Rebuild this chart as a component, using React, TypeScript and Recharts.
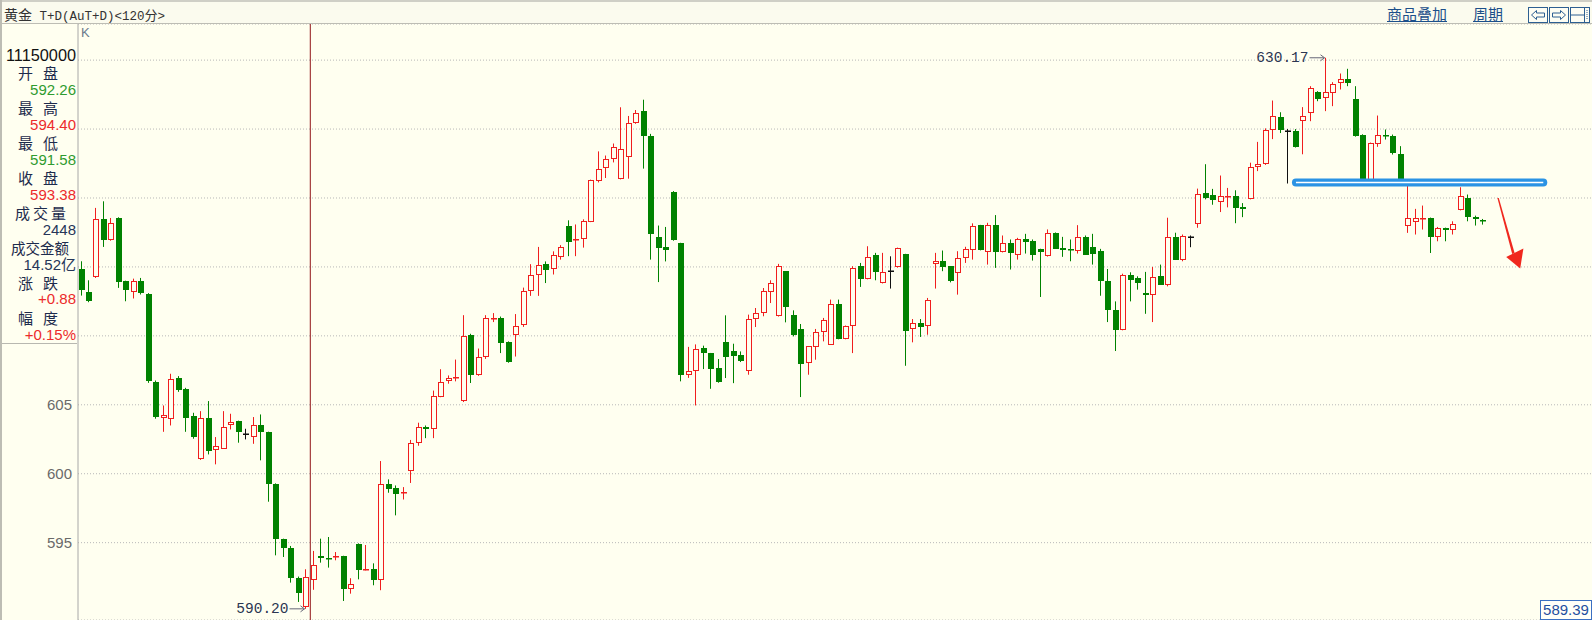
import React from "react";
import { ComposedChart, Bar, XAxis, YAxis, CartesianGrid, ReferenceLine } from "recharts";

// ---- data ----
const opens = [
  614.86, 613.19, 614.25, 618.45, 616.98, 618.55, 613.96, 613.16, 613.96, 613.04,
  606.64, 604.03, 603.99, 606.96, 606.11, 604.18, 601.04, 604.06, 601.71, 601.81,
  603.5, 603.82, 602.85, 602.68, 603.5, 603.04, 599.28, 595.24, 594.64, 592.42,
  590.36, 592.26, 594.03, 593.92, 593.96, 594.03, 591.67, 594.93, 593.07, 593.12,
  592.27, 599.28, 598.99, 598.57, 600.2, 602.2, 603.38, 603.28, 605.58, 606.7,
  606.95, 605.25, 610.08, 607.15, 608.45, 611.25, 611.33, 609.58, 610.03, 610.78,
  613.25, 614.45, 615.2, 614.83, 615.7, 618.0, 616.93, 617.0, 618.28, 621.2,
  622.15, 622.83, 621.4, 623.0, 625.45, 626.28, 624.53, 617.15, 616.45, 620.45,
  616.7, 607.15, 607.45, 609.12, 608.75, 607.66, 609.55, 608.87, 608.58, 607.42,
  611.25, 611.66, 613.16, 611.42, 614.69, 611.49, 610.5, 608.03, 609.19, 610.28,
  609.36, 612.31, 609.79, 610.74, 615.1, 614.15, 615.85, 613.84, 614.73, 615.0,
  615.94, 610.5, 610.93, 610.74, 615.22, 615.46, 615.05, 614.56, 615.66, 616.26,
  618.01, 616.09, 618.01, 616.09, 616.75, 615.83, 616.99, 616.87, 616.31, 615.78,
  617.48, 616.38, 616.31, 616.19, 617.18, 616.46, 616.14, 614.0, 611.89, 610.44,
  614.44, 614.2, 613.11, 612.99, 614.32, 613.71, 617.18, 615.53, 617.18, 618.08,
  620.39, 620.2, 619.71, 620.07, 620.17, 619.32, 619.93, 622.27, 622.44, 624.95,
  625.85, 624.88, 624.88, 625.56, 626.13, 627.68, 627.22, 627.63, 628.35, 628.65,
  627.19, 624.6, 621.14, 623.95, 624.6, 624.48, 623.2, 618.0, 618.27, 618.48,
  618.56, 617.18, 617.83, 617.66, 619.11, 620.0, 618.63, 618.43,
];
const highs = [
  615.41, 614.03, 619.28, 619.76, 618.55, 618.6, 614.0, 614.15, 614.2, 613.1,
  606.76, 604.95, 607.25, 607.08, 606.23, 604.42, 604.54, 605.27, 602.66, 604.54,
  604.35, 603.85, 603.26, 604.11, 604.3, 603.05, 599.3, 595.29, 594.76, 592.54,
  593.07, 594.4, 595.29, 595.41, 594.32, 594.05, 592.42, 594.95, 594.83, 593.5,
  600.92, 599.59, 599.15, 599.03, 602.45, 603.7, 603.5, 606.03, 607.58, 607.13,
  608.28, 611.5, 610.15, 609.08, 611.5, 611.65, 611.4, 609.6, 611.58, 613.5,
  615.2, 616.45, 615.4, 616.13, 616.58, 618.38, 618.08, 618.45, 621.33, 623.38,
  623.08, 623.95, 626.58, 625.95, 626.38, 627.13, 624.65, 618.0, 617.9, 620.5,
  616.75, 609.2, 609.38, 609.29, 608.76, 608.32, 611.49, 609.43, 608.87, 611.54,
  612.02, 613.47, 614.03, 615.22, 614.7, 611.85, 610.86, 609.25, 610.5, 611.3,
  612.63, 612.63, 610.75, 615.05, 615.29, 616.5, 616.02, 616.02, 615.77, 616.4,
  615.95, 611.22, 611.22, 612.75, 616.02, 616.19, 615.05, 616.14, 616.46, 618.16,
  618.05, 618.2, 618.76, 617.28, 616.99, 617.11, 617.4, 616.99, 616.32, 617.72,
  617.5, 617.18, 616.99, 618.03, 617.28, 617.4, 616.31, 614.85, 612.5, 614.51,
  614.61, 614.32, 614.64, 615.0, 615.17, 618.57, 617.48, 617.35, 617.28, 620.68,
  622.45, 620.66, 621.63, 620.73, 620.56, 619.63, 622.56, 624.07, 625.05, 627.07,
  626.22, 625.0, 625.0, 626.59, 628.11, 627.75, 630.17, 628.4, 629.03, 629.37,
  628.11, 624.62, 624.02, 625.98, 624.97, 624.6, 623.76, 621.14, 619.21, 619.45,
  618.58, 617.9, 617.85, 618.31, 620.78, 620.25, 618.72, 618.48,
];
const lows = [
  612.92, 612.44, 614.2, 616.45, 616.9, 613.48, 612.51, 612.71, 613.0, 606.59,
  603.99, 603.04, 603.5, 605.94, 603.04, 602.54, 601.0, 601.4, 600.68, 601.8,
  603.21, 602.25, 602.49, 602.17, 600.97, 597.97, 594.08, 593.96, 592.1, 590.7,
  590.2, 591.58, 593.55, 593.19, 593.72, 590.77, 591.3, 592.34, 592.99, 591.91,
  591.55, 598.62, 596.98, 598.13, 599.33, 602.03, 602.58, 602.58, 605.55, 606.53,
  606.7, 605.2, 606.58, 607.1, 608.33, 611.0, 608.75, 608.05, 608.5, 610.65,
  612.9, 612.9, 613.83, 614.45, 615.53, 615.78, 615.78, 616.4, 618.25, 621.13,
  621.45, 622.58, 621.35, 621.4, 625.38, 622.13, 615.53, 613.9, 615.4, 616.9,
  606.7, 606.95, 604.95, 607.59, 606.16, 606.6, 606.94, 606.57, 608.1, 607.18,
  610.64, 611.42, 612.38, 611.4, 610.98, 609.96, 605.56, 607.18, 608.27, 609.6,
  609.35, 609.75, 609.75, 608.75, 613.55, 614.1, 614.03, 613.8, 613.43, 614.95,
  607.83, 609.53, 609.92, 610.08, 613.43, 614.69, 613.88, 612.99, 615.29, 615.53,
  616.2, 615.17, 614.93, 616.05, 614.81, 615.53, 615.97, 615.46, 612.82, 615.75,
  616.3, 615.73, 615.41, 615.97, 615.88, 615.17, 612.91, 611.0, 608.9, 610.4,
  612.5, 613.35, 611.6, 611.0, 613.7, 613.59, 615.5, 615.41, 616.43, 617.84,
  619.9, 619.51, 618.98, 619.32, 618.17, 618.61, 619.9, 621.95, 622.4, 624.27,
  624.71, 621.05, 623.66, 623.17, 625.57, 627.02, 626.3, 626.66, 627.87, 628.11,
  624.45, 621.1, 621.1, 623.71, 624.24, 623.15, 621.1, 617.47, 617.35, 617.71,
  616.01, 616.86, 616.86, 617.35, 619.1, 618.31, 618.0, 618.07,
];
const closes = [
  613.31, 612.51, 618.45, 616.98, 618.19, 613.91, 613.36, 613.96, 613.12, 606.71,
  604.11, 604.23, 606.88, 606.04, 604.03, 602.66, 604.06, 601.64, 602.0, 603.41,
  603.77, 603.04, 602.85, 603.5, 603.04, 599.23, 595.24, 594.64, 592.46, 591.38,
  592.54, 593.38, 593.86, 593.84, 594.03, 591.67, 592.03, 592.99, 593.12, 592.27,
  599.28, 598.86, 598.5, 598.68, 602.2, 603.38, 603.28, 605.63, 606.63, 606.95,
  607.03, 610.0, 607.15, 608.45, 611.33, 611.33, 609.5, 608.08, 610.7, 613.28,
  614.45, 615.15, 614.78, 615.83, 616.45, 616.78, 617.0, 618.33, 621.28, 622.13,
  622.83, 623.7, 623.53, 625.45, 626.15, 624.5, 617.4, 616.4, 616.23, 616.95,
  607.15, 607.45, 609.08, 608.75, 607.61, 606.62, 608.46, 608.51, 608.15, 611.22,
  611.66, 613.23, 613.84, 615.05, 612.07, 610.08, 607.98, 609.24, 610.28, 611.13,
  612.31, 609.79, 610.74, 614.93, 614.15, 615.73, 614.64, 614.64, 614.73, 616.38,
  610.38, 610.93, 610.64, 612.58, 615.46, 615.0, 613.96, 615.66, 616.31, 617.96,
  616.26, 618.01, 616.09, 616.75, 616.02, 616.99, 616.82, 615.9, 616.09, 617.48,
  616.33, 616.26, 616.21, 617.18, 615.9, 615.97, 614.0, 611.89, 610.44, 614.44,
  614.08, 613.83, 612.99, 614.27, 613.71, 617.18, 615.53, 617.23, 617.18, 620.32,
  619.98, 619.88, 620.17, 620.17, 619.27, 619.22, 622.27, 622.44, 624.95, 625.93,
  624.95, 624.88, 623.71, 625.93, 627.99, 627.19, 627.68, 628.28, 628.65, 628.35,
  624.48, 621.14, 624.0, 624.6, 624.48, 623.23, 621.14, 618.56, 618.56, 618.56,
  617.18, 617.83, 617.66, 618.14, 620.13, 618.63, 618.48, 618.36,
];

const TOTAL_SLOTS = 202;
const yTicks = [595, 600, 605, 610, 615, 620, 625, 630];
const yTickLabelsShown = [595, 600, 605];
const Y_MIN = 589.39;
const Y_MAX = 632.62;
const SUPPORT_PRICE = 621.12;
const SUPPORT_FROM = 162;
const SUPPORT_TO = 195;
const CURSOR_INDEX = 31;
const bottomPriceLabel = "589.39";

const infoRows = [
  { text: "11150000", y: 55, kind: "head", color: "#111111" },
  { text: "开盘", y: 73, kind: "label", color: "#1d2b4c" },
  { text: "592.26", y: 90, kind: "num", color: "#2f9b2f" },
  { text: "最高", y: 108, kind: "label", color: "#1d2b4c" },
  { text: "594.40", y: 125, kind: "num", color: "#ec2b2b" },
  { text: "最低", y: 143, kind: "label", color: "#1d2b4c" },
  { text: "591.58", y: 160, kind: "num", color: "#2f9b2f" },
  { text: "收盘", y: 178, kind: "label", color: "#1d2b4c" },
  { text: "593.38", y: 195, kind: "num", color: "#ec2b2b" },
  { text: "成交量", y: 213, kind: "label", color: "#1d2b4c" },
  { text: "2448", y: 230, kind: "num", color: "#263659" },
  { text: "成交金额", y: 248, kind: "label", color: "#1d2b4c" },
  { text: "14.52亿", y: 265, kind: "num", color: "#263659" },
  { text: "涨跌", y: 283, kind: "label", color: "#1d2b4c" },
  { text: "+0.88", y: 299, kind: "num", color: "#ec2b2b" },
  { text: "幅度", y: 318, kind: "label", color: "#1d2b4c" },
  { text: "+0.15%", y: 335, kind: "num", color: "#ec2b2b" },
];

let maxIdx = 0;
let minIdx = 0;
highs.forEach((v, i) => { if (v > highs[maxIdx]) maxIdx = i; });
lows.forEach((v, i) => { if (v < lows[minIdx]) minIdx = i; });

const data = Array.from({ length: TOTAL_SLOTS }, (_, i) =>
  i < opens.length
    ? { i, o: opens[i], h: highs[i], l: lows[i], c: closes[i], range: [lows[i], highs[i]], tagHigh: i === maxIdx, tagLow: i === minIdx }
    : { i }
);

const RED = "#f01e1e";
const GREEN = "#008200";
const BG = "#fffff0";
const TAG = "#2b3652";

const Candle = (props: any) => {
  const { x, y, width, height, payload } = props;
  if (!payload || payload.o == null) return null;
  const { o, h, l, c } = payload;
  const top = Math.min(y, y + height);
  const bot = Math.max(y, y + height);
  const ppu = h > l ? (bot - top) / (h - l) : 0;
  const py = (v: number) => top + (h - v) * ppu;
  const cx = x + width / 2;
  const left = Math.round(cx - 3);
  const wx = left + 2.5;
  const yh = py(h);
  const yl = py(l);
  const yo = py(o);
  const yc = py(c);
  const bTop = Math.round(Math.min(yo, yc));
  const bBot = Math.round(Math.max(yo, yc));
  const els: any[] = [];
  if (c > o) {
    if (bBot - bTop <= 1) {
      els.push(<line key="w" x1={wx} x2={wx} y1={yh} y2={yl} stroke={RED} strokeWidth={1} />);
      els.push(<rect key="b" x={left} y={bTop} width={6} height={Math.max(bBot - bTop, 1) + 0.5} fill={RED} />);
    } else {
      els.push(<line key="w1" x1={wx} x2={wx} y1={yh} y2={bTop} stroke={RED} strokeWidth={1} />);
      els.push(<line key="w2" x1={wx} x2={wx} y1={bBot} y2={yl} stroke={RED} strokeWidth={1} />);
      els.push(<rect key="b" x={left + 0.5} y={bTop + 0.5} width={5} height={bBot - bTop - 1} fill={BG} stroke={RED} strokeWidth={1} />);
    }
  } else if (c < o) {
    els.push(<line key="w" x1={wx} x2={wx} y1={yh} y2={yl} stroke={GREEN} strokeWidth={1} />);
    els.push(<rect key="b" x={left} y={bTop} width={6} height={Math.max(bBot - bTop, 1.5)} fill={GREEN} />);
  } else {
    els.push(<line key="w" x1={wx} x2={wx} y1={yh} y2={yl} stroke="#111" strokeWidth={1} />);
    els.push(<rect key="b" x={left} y={Math.round(yo) - 0.5} width={6} height={1.5} fill="#111" />);
  }
  const tag = (yy: number, val: number, k: string) => (
    <g key={k}>
      <text x={wx - 17} y={yy} textAnchor="end" dominantBaseline="central" fontFamily="'Liberation Mono', 'DejaVu Sans Mono', monospace" fontSize={14.5} fill={TAG}>
        {val.toFixed(2)}
      </text>
      <line x1={wx - 16} x2={wx - 1} y1={yy} y2={yy} stroke="#667" strokeWidth={1} />
      <path d={`M${wx - 5},${yy - 3} L${wx - 1},${yy} L${wx - 5},${yy + 3}`} fill="none" stroke="#667" strokeWidth={1} />
    </g>
  );
  if (payload.tagHigh) els.push(tag(yh, h, "th"));
  if (payload.tagLow) els.push(tag(yl, l, "tl"));
  return <g>{els}</g>;
};

const PriceTick = (props: any) => {
  const { x, y, payload } = props;
  if (!yTickLabelsShown.includes(payload.value)) return null;
  return (
    <text x={x} y={y} dy="0.355em" textAnchor="end" fill="#6a6a6a" fontSize={15} fontFamily="'Liberation Sans', Arial, sans-serif">
      {payload.value}
    </text>
  );
};

const labelStyle = (text: string): React.CSSProperties => {
  if (text.length === 2) return { left: 18, letterSpacing: 10, fontSize: 15 };
  if (text.length === 3) return { left: 15, letterSpacing: 3, fontSize: 15 };
  return { left: 11, letterSpacing: 0, fontSize: 14.5 };
};

const InfoPanel = () => (
  <div style={{ position: "absolute", left: 0, top: 25, width: 77, height: 318, background: BG, overflow: "hidden", borderBottom: "1px solid #b8b8b0" }}>
    {infoRows.map((r, k) => {
      const top = r.y - 25 - 10;
      if (r.kind === "label") {
        return (
          <div key={k} style={{ position: "absolute", top, height: 20, lineHeight: "20px", whiteSpace: "nowrap", color: r.color, fontFamily: "'Noto Sans CJK SC', sans-serif", ...labelStyle(r.text) }}>
            {r.text}
          </div>
        );
      }
      const fs = r.kind === "head" ? 16.3 : 15;
      return (
        <div key={k} style={{ position: "absolute", left: 0, top, width: 76, height: 20, lineHeight: "20px", textAlign: "right", whiteSpace: "nowrap", color: r.color, fontSize: fs, fontFamily: "'Liberation Sans', Arial, 'Noto Sans CJK SC', sans-serif" }}>
          {r.text}
        </div>
      );
    })}
  </div>
);

const TitleBar = () => (
  <div style={{ position: "absolute", left: 0, top: 0, width: 1592, height: 24, background: "#fbfbee", borderTop: "2px solid #cfcfc6", borderBottom: "1px solid #bdbdb4", boxSizing: "border-box" }}>
    <div style={{ position: "absolute", left: 4, top: 2, height: 20, lineHeight: "20px", whiteSpace: "nowrap", color: "#333" }}>
      <span style={{ fontFamily: "'Noto Sans CJK SC', sans-serif", fontSize: 14 }}>黄金</span>
      <span style={{ fontFamily: "'Liberation Mono', 'DejaVu Sans Mono', monospace", fontSize: 12.5 }}> T+D(AuT+D)&lt;120</span>
      <span style={{ fontFamily: "'Noto Sans CJK SC', sans-serif", fontSize: 13 }}>分</span>
      <span style={{ fontFamily: "'Liberation Mono', 'DejaVu Sans Mono', monospace", fontSize: 12.5 }}>&gt;</span>
    </div>
    <div style={{ position: "absolute", left: 1387, top: 2, height: 20, lineHeight: "20px", color: "#1c4f8a", textDecoration: "underline", fontFamily: "'Noto Sans CJK SC', sans-serif", fontSize: 15 }}>商品叠加</div>
    <div style={{ position: "absolute", left: 1473, top: 2, height: 20, lineHeight: "20px", color: "#1c4f8a", textDecoration: "underline", fontFamily: "'Noto Sans CJK SC', sans-serif", fontSize: 15 }}>周期</div>
    <svg style={{ position: "absolute", left: 1528, top: 5 }} width={64} height={17}>
      <rect x={0.5} y={0.5} width={19} height={15} fill="#fdfdf3" stroke="#2d5f91" />
      <path d="M3.5,8 L8.5,3.5 L8.5,6 L16.5,6 L16.5,10 L8.5,10 L8.5,12.5 Z" fill="none" stroke="#2d5f91" />
      <rect x={21.5} y={0.5} width={19} height={15} fill="#fdfdf3" stroke="#2d5f91" />
      <path d="M37.5,8 L32.5,3.5 L32.5,6 L24.5,6 L24.5,10 L32.5,10 L32.5,12.5 Z" fill="none" stroke="#2d5f91" />
      <rect x={42.5} y={0.5} width={19} height={15} fill="#fdfdf3" stroke="#2d5f91" />
      <line x1={43} x2={56} y1={8} y2={8} stroke="#2d5f91" />
      <line x1={56.5} x2={56.5} y1={1} y2={15} stroke="#2d5f91" />
      <line x1={59} x2={59} y1={3} y2={13} stroke="#2d5f91" strokeDasharray="1 1" />
    </svg>
  </div>
);

export default function App() {
  return (
    <div style={{ position: "absolute", left: 0, top: 0, width: 1592, height: 620, background: BG, overflow: "hidden", fontFamily: "'Liberation Sans', Arial, sans-serif" }}>
      <div style={{ position: "absolute", left: 0, top: 24, width: 1592, height: 596 }}>
        <ComposedChart width={1592} height={596} data={data} margin={{ top: 0, right: 0, bottom: 0, left: 0 }} barCategoryGap={0}>
          <CartesianGrid vertical={false} strokeDasharray="1 2" stroke="#b8b8b8" />
          <XAxis dataKey="i" type="category" hide height={0} />
          <YAxis
            domain={[Y_MIN, Y_MAX]}
            ticks={yTicks}
            interval={0}
            allowDataOverflow
            width={78}
            tickLine={false}
            tickSize={4}
            tickMargin={2}
            axisLine={{ stroke: "#a8a8a8" }}
            tick={<PriceTick />}
          />
          <Bar dataKey="range" isAnimationActive={false} shape={(p: any) => <Candle {...p} />} />
          <ReferenceLine x={CURSOR_INDEX} position="start" stroke="#a33b3b" strokeWidth={1.2} ifOverflow="visible" />
          <ReferenceLine
            segment={[{ x: SUPPORT_FROM, y: SUPPORT_PRICE }, { x: SUPPORT_TO, y: SUPPORT_PRICE }]}
            stroke="#2b93e4"
            strokeWidth={8}
            strokeLinecap="round"
            ifOverflow="visible"
          />
          <ReferenceLine
            segment={[{ x: SUPPORT_FROM, y: SUPPORT_PRICE }, { x: SUPPORT_TO, y: SUPPORT_PRICE }]}
            stroke="#ffffff"
            strokeWidth={1.6}
            ifOverflow="visible"
          />
        </ComposedChart>
      </div>
      <TitleBar />
      <InfoPanel />
      <div style={{ position: "absolute", left: 81, top: 25, height: 16, lineHeight: "16px", fontSize: 13, color: "#6a7a8c", fontFamily: "'Liberation Sans', Arial, sans-serif" }}>K</div>
      <svg style={{ position: "absolute", left: 0, top: 0, pointerEvents: "none" }} width={1592} height={620}>
        <polygon points="1497.4,198 1498.8,198 1514.6,253 1512.2,254" fill="#f0281e" />
        <polygon points="1506.2,257 1523.4,248.4 1520.2,268.6" fill="#f0281e" />
      </svg>
      <div style={{ position: "absolute", left: 1540, top: 600, width: 50, height: 18, border: "1px solid #3a6fc2", background: "#fffff8", color: "#1f4fa0", fontSize: 15, lineHeight: "18px", textAlign: "center", fontFamily: "'Liberation Sans', Arial, sans-serif" }}>
        {bottomPriceLabel}
      </div>
      <div style={{ position: "absolute", left: 0, top: 0, width: 2, height: 620, background: "#bdbdb4" }} />
    </div>
  );
}
